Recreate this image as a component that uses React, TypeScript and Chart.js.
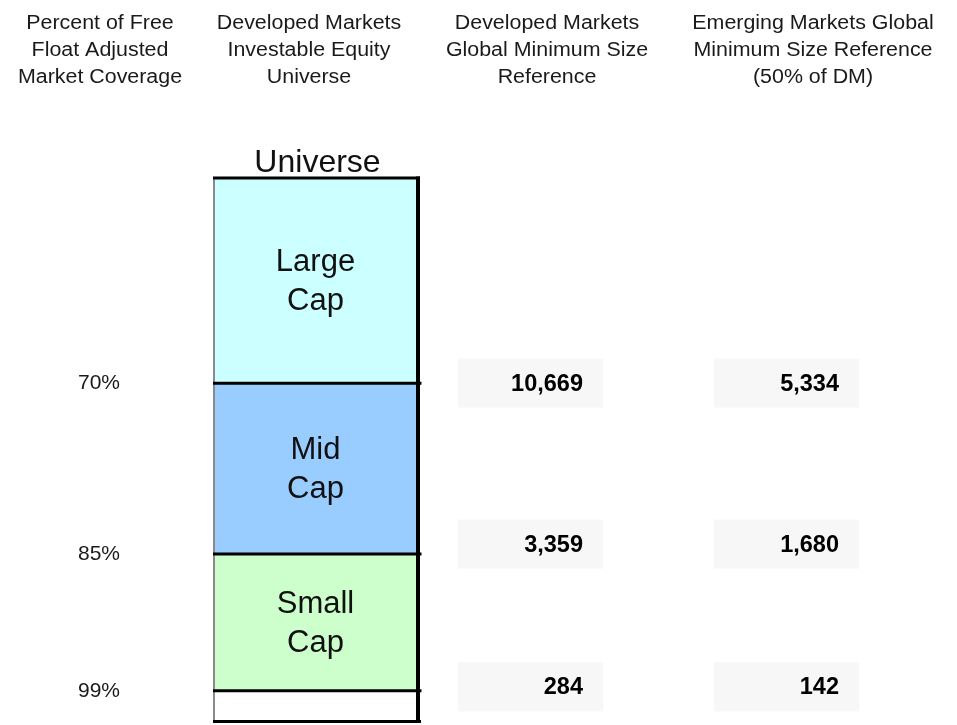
import React, { useEffect, useRef } from "react";
import { Chart, registerables } from "chart.js";

Chart.register(...registerables);

// ---- data ----
const segmentNames = ["Large Cap", "Mid Cap", "Small Cap", ""];
// schematic segment heights as drawn in the picture (not to coverage scale)
const segmentHeights = [6, 5, 4, 0.94];
const segmentColors = ["#CCFFFF", "#99CCFF", "#CCFFCC", "#FFFFFF"];
const coverageLabels = ["70%", "85%", "99%"];
const dmMinimumSize = [10669, 3359, 284];
const emMinimumSize = [5334, 1680, 142];
const barTitle = "Universe";
const headerCol1 = ["Percent of Free", "Float Adjusted", "Market Coverage"];
const headerCol2 = ["Developed Markets", "Investable Equity", "Universe"];
const headerCol3 = ["Developed Markets", "Global Minimum Size", "Reference"];
const headerCol4 = ["Emerging Markets Global", "Minimum Size Reference", "(50% of DM)"];

const FONT = "'Liberation Sans', Arial, Helvetica, sans-serif";
const W = 957;
const H = 725;

const overlayPlugin = {
  id: "overlay",
  afterDatasetsDraw(chart: any) {
    const ctx = chart.ctx as CanvasRenderingContext2D;
    const metas = chart.data.datasets.map((_: any, i: number) => chart.getDatasetMeta(i));
    const els = metas.map((m: any) => m.data[0]);
    const seg = els.map((el: any) => {
      const top = Math.min(el.y, el.base);
      const bottom = Math.max(el.y, el.base);
      return { top, bottom, left: el.x - el.width / 2, right: el.x + el.width / 2, x: el.x };
    });
    const left = seg[0].left;
    const right = seg[0].right;
    const cx = seg[0].x;
    const barTop = seg[0].top;
    const barBottom = seg[seg.length - 1].bottom;

    ctx.save();
    // segment labels
    ctx.fillStyle = "#111111";
    ctx.textAlign = "center";
    ctx.textBaseline = "middle";
    ctx.font = `31px ${FONT}`;
    seg.forEach((s: any, i: number) => {
      const name = segmentNames[i];
      if (!name) return;
      const lines = name.split(" ");
      const mid = (s.top + s.bottom) / 2;
      const lh = 39;
      lines.forEach((ln: string, k: number) => {
        ctx.fillText(ln, cx, mid + (k - (lines.length - 1) / 2) * lh + 1);
      });
    });

    // bar title
    ctx.textBaseline = "alphabetic";
    ctx.font = `32px ${FONT}`;
    ctx.fillText(barTitle, cx + 2, barTop - 6);

    // borders
    ctx.lineCap = "butt";
    // left border (gray)
    ctx.strokeStyle = "#8a8a8a";
    ctx.lineWidth = 2;
    ctx.beginPath();
    ctx.moveTo(left + 1, barTop);
    ctx.lineTo(left + 1, barBottom);
    ctx.stroke();
    // boundaries between segments
    ctx.strokeStyle = "#000000";
    ctx.lineWidth = 3;
    for (let i = 0; i < seg.length - 1; i++) {
      const y = seg[i].bottom;
      ctx.beginPath();
      ctx.moveTo(left, y);
      ctx.lineTo(right + 3.5, y);
      ctx.stroke();
    }
    // top and bottom
    ctx.beginPath();
    ctx.moveTo(left, barTop);
    ctx.lineTo(right + 2, barTop);
    ctx.stroke();
    ctx.beginPath();
    ctx.moveTo(left, barBottom - 1.5);
    ctx.lineTo(right + 3, barBottom - 1.5);
    ctx.stroke();
    // right border
    ctx.lineWidth = 4;
    ctx.beginPath();
    ctx.moveTo(right, barTop - 1.5);
    ctx.lineTo(right, barBottom);
    ctx.stroke();

    // coverage labels and value boxes at segment boundaries
    const boxOffsets = [0, -10, -4];
    const boxCols = [
      { l: 458, r: 603, vals: dmMinimumSize },
      { l: 714, r: 859, vals: emMinimumSize },
    ];
    for (let i = 0; i < coverageLabels.length; i++) {
      const y = seg[i].bottom;
      ctx.fillStyle = "#1a1a1a";
      ctx.font = `21px ${FONT}`;
      ctx.textAlign = "left";
      ctx.textBaseline = "middle";
      ctx.fillText(coverageLabels[i], 78, y);

      const by = y + boxOffsets[i];
      boxCols.forEach((c) => {
        ctx.fillStyle = "#F7F7F7";
        ctx.fillRect(c.l, by - 24.5, c.r - c.l, 49);
        ctx.fillStyle = "#000000";
        ctx.font = `bold 23.5px ${FONT}`;
        ctx.textAlign = "right";
        ctx.textBaseline = "middle";
        ctx.fillText(c.vals[i].toLocaleString("en-US"), c.r - 20, by + 1);
      });
    }

    // column headers
    const headers = [
      { x: 100, lines: headerCol1 },
      { x: 309, lines: headerCol2 },
      { x: 547, lines: headerCol3 },
      { x: 813, lines: headerCol4 },
    ];
    ctx.fillStyle = "#1a1a1a";
    ctx.font = `20px ${FONT}`;
    ctx.textAlign = "center";
    ctx.textBaseline = "alphabetic";
    headers.forEach((h) => {
      h.lines.forEach((ln, k) => {
        ctx.save();
        ctx.translate(h.x, 29 + k * 27);
        ctx.scale(1.07, 1);
        ctx.fillText(ln, 0, 0);
        ctx.restore();
      });
    });
    ctx.restore();
  },
};

export default function App() {
  const canvasRef = useRef<HTMLCanvasElement | null>(null);

  useEffect(() => {
    const canvas = canvasRef.current;
    if (!canvas) return;
    const total = segmentHeights.reduce((a, b) => a + b, 0);
    const chart = new Chart(canvas, {
      type: "bar",
      data: {
        labels: [barTitle],
        datasets: segmentHeights.map((v, i) => ({
          label: segmentNames[i] || "Remaining",
          data: [v],
          backgroundColor: segmentColors[i],
          borderWidth: 0,
          stack: "universe",
          barPercentage: 1,
          categoryPercentage: 1,
        })),
      },
      options: {
        responsive: false,
        devicePixelRatio: 1,
        animation: false,
        layout: { padding: { left: 213, right: W - 418, top: 178, bottom: 2 } },
        plugins: {
          legend: { display: false },
          tooltip: { enabled: false },
          title: { display: false },
        },
        scales: {
          x: { display: false, stacked: true },
          y: { display: false, stacked: true, reverse: true, min: 0, max: total },
        },
      },
      plugins: [overlayPlugin],
    });
    return () => chart.destroy();
  }, []);

  return (
    <div style={{ position: "absolute", left: 0, top: 0, width: W, height: H, background: "#ffffff" }}>
      <canvas ref={canvasRef} width={W} height={H} style={{ display: "block" }} />
    </div>
  );
}
